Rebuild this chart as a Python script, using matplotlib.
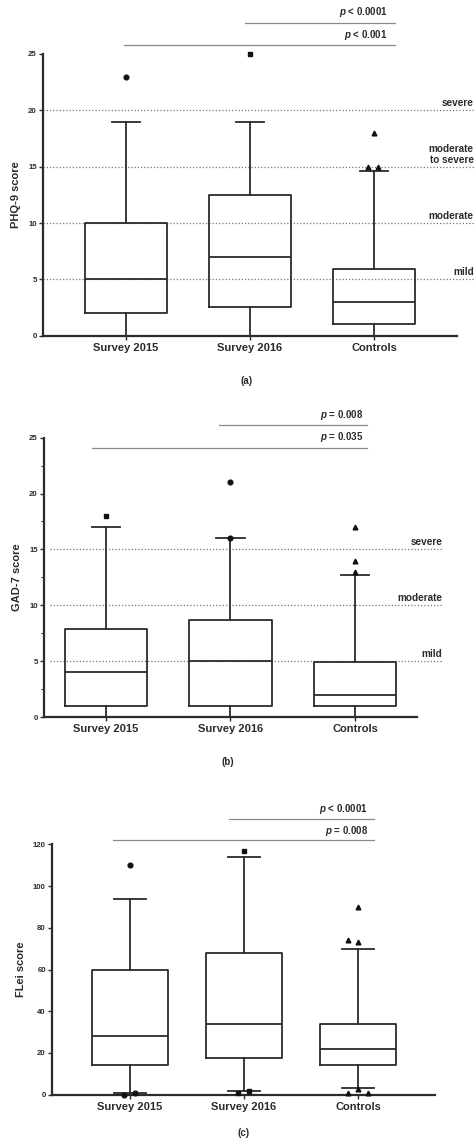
import matplotlib
matplotlib.use("Agg")
import matplotlib.pyplot as plt

plt.rcParams['font.family'] = ['Liberation Sans', 'DejaVu Sans']
plt.rcParams['font.weight'] = 'bold'
plt.rcParams['mathtext.fontset'] = 'custom'
plt.rcParams['mathtext.it'] = 'Liberation Sans:italic:bold'
plt.rcParams['mathtext.rm'] = 'Liberation Sans:bold'

# ---------------- data ----------------
groups = ["Survey 2015", "Survey 2016", "Controls"]

# Panel (a) PHQ-9
phq_whislo = [0, 0, 0]
phq_q1 = [2, 2.55, 1.0]
phq_med = [5, 7, 3]
phq_q3 = [10, 12.45, 5.95]
phq_whishi = [19, 19, 14.65]
phq_out = [[23], [25], [18, 15, 15]]
phq_out_jit = [[0], [0], [0, -0.05, 0.03]]
phq_markers = ["o", "s", "^"]
phq_ticks = [0, 5, 10, 15, 20, 25]
phq_thresholds = [5, 10, 15, 20]
phq_thr_labels = ["mild", "moderate", "moderate\nto severe", "severe"]
phq_pvals = [r"$\it{p}$ < 0.0001", r"$\it{p}$ < 0.001"]

# Panel (b) GAD-7
gad_whislo = [0, 0, 0]
gad_q1 = [1, 1, 1]
gad_med = [4, 5, 2]
gad_q3 = [7.9, 8.7, 4.9]
gad_whishi = [17, 16, 12.7]
gad_out = [[18], [16, 21], [13, 14, 17]]
gad_out_jit = [[0], [0, 0], [0, 0, 0]]
gad_markers = ["s", "o", "^"]
gad_ticks = [0, 5, 10, 15, 20, 25]
gad_thresholds = [5, 10, 15]
gad_thr_labels = ["mild", "moderate", "severe"]
gad_pvals = [r"$\it{p}$ = 0.008", r"$\it{p}$ = 0.035"]

# Panel (c) FLei
flei_whislo = [1, 2, 3]
flei_q1 = [14.2, 17.4, 14]
flei_med = [28, 34, 22]
flei_q3 = [60, 68, 34]
flei_whishi = [94, 114, 70]
flei_out = [[110, 0, 1], [117, 1, 2], [90, 74, 73, 1, 2.5, 1]]
flei_out_jit = [[0, -0.05, 0.04], [0, -0.05, 0.04], [0, -0.09, 0, -0.09, 0, 0.09]]
flei_markers = ["o", "s", "^"]
flei_ticks = [0, 20, 40, 60, 80, 100, 120]
flei_pvals = [r"$\it{p}$ < 0.0001", r"$\it{p}$ = 0.008"]

captions = ["(a)", "(b)", "(c)"]

# ---------------- figure ----------------
W, H = 474, 1140
fig = plt.figure(figsize=(W / 100, H / 100), dpi=100)
fig.patch.set_facecolor("white")

DARK = "#2b2b2b"
GRAY = "#8a8a8a"
TXT = 7.0


def add_ax(left, right, top, bottom):
    return fig.add_axes([left / W, 1 - bottom / H, (right - left) / W, (bottom - top) / H])


def draw_panel(ax, xlim, ylim, whislo, q1, med, q3, whishi, outs, jits, markers,
               ticks, capw, ylabel, minor=None):
    stats = []
    for i, g in enumerate(groups):
        stats.append(dict(label=g, whislo=whislo[i], q1=q1[i], med=med[i],
                          q3=q3[i], whishi=whishi[i], fliers=[]))
    ax.bxp(stats, positions=[1, 2, 3], widths=0.66, capwidths=capw,
           showfliers=False, patch_artist=False,
           boxprops=dict(color=DARK, linewidth=1.3),
           medianprops=dict(color=DARK, linewidth=1.3),
           whiskerprops=dict(color=DARK, linewidth=1.3),
           capprops=dict(color=DARK, linewidth=1.3), zorder=3)
    for i in range(3):
        for v, j in zip(outs[i], jits[i]):
            ax.plot(1 + i + j, v, marker=markers[i], color="#111111", ms=3.4,
                    linestyle="none", clip_on=False, zorder=4)
    ax.set_xlim(*xlim)
    ax.set_ylim(*ylim)
    ax.set_yticks(ticks)
    if minor is not None:
        ax.set_yticks(minor, minor=True)
        ax.tick_params(axis="y", which="minor", length=2.5, width=0.8, color=DARK)
    ax.set_xticks([1, 2, 3])
    ax.set_xticklabels(groups, fontsize=8, fontweight="bold", color=DARK)
    ax.tick_params(axis="y", labelsize=5.6, length=3, width=1.0, pad=1.5, color=DARK,
                   labelcolor=DARK)
    ax.tick_params(axis="x", length=3, width=1.0, pad=2.0, color=DARK)
    for s in ["top", "right"]:
        ax.spines[s].set_visible(False)
    for s in ["left", "bottom"]:
        ax.spines[s].set_linewidth(1.6)
        ax.spines[s].set_color(DARK)
    ax.set_ylabel(ylabel, fontsize=8, fontweight="bold", color=DARK, labelpad=5)
    ax.patch.set_alpha(0)


def sig_bars(ax, lines, texts, pvals, text_right):
    for (x0, x1, y) in lines:
        ax.plot([x0, x1], [y, y], color=GRAY, lw=0.9, clip_on=False, zorder=2)
    for y, t in zip(texts, pvals):
        ax.text(text_right, y, t, ha="right", va="center", fontsize=TXT,
                fontweight="bold", color=DARK, clip_on=False)


def thresholds(ax, vals, labels, x0, x1, label_x, offs):
    for v, lab, o in zip(vals, labels, offs):
        ax.plot([x0, x1], [v, v], color="#777777", lw=0.9, linestyle=(0, (1, 1.6)),
                clip_on=False, zorder=1)
        ax.annotate(lab, xy=(label_x, v), xytext=(0, o), textcoords="offset points",
                    ha="right", va="bottom", fontsize=7.2, fontweight="bold",
                    color=DARK, annotation_clip=False, multialignment="right",
                    linespacing=1.1)


# Panel (a)
axa = add_ax(43, 457, 54, 335.7)
draw_panel(axa, (0.331, 3.669), (0, 25), phq_whislo, phq_q1, phq_med, phq_q3,
           phq_whishi, phq_out, phq_out_jit, phq_markers, phq_ticks, 0.22, "PHQ-9 score")
thresholds(axa, phq_thresholds, phq_thr_labels, 0.331, 3.81, 3.805, [1.5, 1.5, 1.5, 1.5])
sig_bars(axa, [(1.96, 3.17, 27.75), (0.984, 3.17, 25.8)], [28.7, 26.7], phq_pvals, 3.11)

# Panel (b)
axb = add_ax(44, 417, 437.7, 717)
draw_panel(axb, (0.502, 3.498), (0, 25), gad_whislo, gad_q1, gad_med, gad_q3,
           gad_whishi, gad_out, gad_out_jit, gad_markers, gad_ticks, 0.23, "GAD-7 score",
           minor=[2.5, 7.5, 12.5, 17.5, 22.5])
thresholds(axb, gad_thresholds, gad_thr_labels, 0.55, 3.70, 3.70, [1.5, 1.5, 1.5])
sig_bars(axb, [(1.908, 3.096, 26.14), (0.888, 3.096, 24.08)], [27.0, 25.06], gad_pvals, 3.064)

# Panel (c)
axc = add_ax(52, 435, 844.3, 1094.7)
draw_panel(axc, (0.316, 3.675), (0, 120), flei_whislo, flei_q1, flei_med, flei_q3,
           flei_whishi, flei_out, flei_out_jit, flei_markers, flei_ticks, 0.28, "FLei score")
sig_bars(axc, [(1.868, 3.14, 132.2), (0.851, 3.14, 122.1)], [137.0, 126.5], flei_pvals, 3.088)

# Captions
for (cx, cy), cap in zip([(247, 381), (228, 762), (244, 1133)], captions):
    fig.text(cx / W, 1 - cy / H, cap, ha="center", va="center", fontsize=TXT,
             fontweight="bold", color=DARK)

fig.savefig("out.png", dpi=100, facecolor="white")
